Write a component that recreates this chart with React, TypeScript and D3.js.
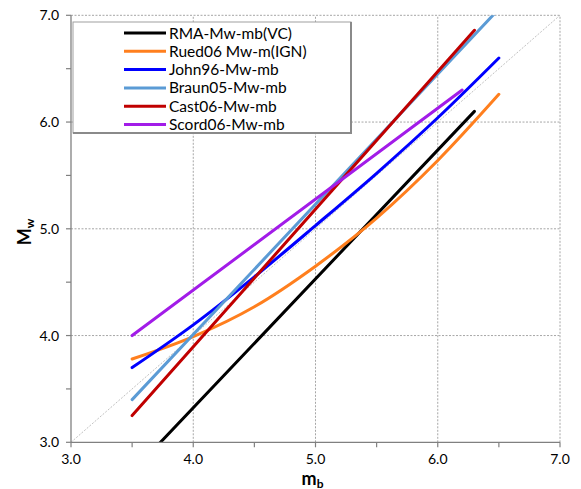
import React from "react";
import * as d3 from "d3";

const xTicks = [3.0, 4.0, 5.0, 6.0, 7.0];
const yTicks = [3.0, 4.0, 5.0, 6.0, 7.0];
const minorTicks = [3.5, 4.5, 5.5, 6.5];

const seriesNames = [
  "RMA-Mw-mb(VC)",
  "Rued06 Mw-m(IGN)",
  "John96-Mw-mb",
  "Braun05-Mw-mb",
  "Cast06-Mw-mb",
  "Scord06-Mw-mb",
];
const seriesColors = ["#000000", "#ff7f1e", "#0000ff", "#5b9bd5", "#c00000", "#a21ce8"];

const rmaMb = [3.5, 6.3];
const rmaMw = [2.72, 6.1];
const ruedMb = [3.5, 4.0, 4.5, 5.0, 5.5, 6.0, 6.5];
const ruedMw = [3.78, 3.99, 4.27, 4.65, 5.1, 5.64, 6.26];
const johnMb = [3.5, 4.0, 4.5, 5.0, 5.5, 6.0, 6.5];
const johnMw = [3.7, 4.1, 4.55, 5.03, 5.52, 6.04, 6.6];
const braunMb = [3.5, 6.5];
const braunMw = [3.4, 7.06];
const castMb = [3.5, 6.3];
const castMw = [3.25, 6.86];
const scordMb = [3.5, 6.2];
const scordMw = [4.0, 6.3];

const seriesX = [rmaMb, ruedMb, johnMb, braunMb, castMb, scordMb];
const seriesY = [rmaMw, ruedMw, johnMw, braunMw, castMw, scordMw];

const W = 581;
const H = 489;

export default function App() {
  const x = d3.scaleLinear().domain([3, 7]).range([71, 560]);
  const y = d3.scaleLinear().domain([3, 7]).range([442.3, 15.3]);
  const font = "Lato, 'Open Sans', sans-serif";

  const line = d3
    .line<[number, number]>()
    .x((d) => x(d[0]))
    .y((d) => y(d[1]))
    .curve(d3.curveMonotoneX);

  const gridColor = "#a6a6a6";
  const axisColor = "#808080";

  return (
    <svg width={W} height={H} style={{ position: "absolute", left: 0, top: 0 }}>
      <rect x={0} y={0} width={W} height={H} fill="#fff" />
      <defs>
        <clipPath id="plotclip">
          <rect x={x(3)} y={y(7)} width={x(7) - x(3)} height={y(3) - y(7)} />
        </clipPath>
      </defs>
      {/* grid */}
      {xTicks.slice(1).map((t) => (
        <line key={"gx" + t} x1={x(t)} x2={x(t)} y1={y(3)} y2={y(7)} stroke={gridColor} strokeWidth={1} strokeDasharray="2,1.5" />
      ))}
      {yTicks.slice(1).map((t) => (
        <line key={"gy" + t} x1={x(3)} x2={x(7)} y1={y(t)} y2={y(t)} stroke={gridColor} strokeWidth={1} strokeDasharray="2,1.5" />
      ))}
      {/* diagonal 1:1 */}
      <line x1={x(3)} y1={y(3)} x2={x(7)} y2={y(7)} stroke="#b0b0b0" strokeWidth={0.8} strokeDasharray="2,1.5" />
      {/* series */}
      <g clipPath="url(#plotclip)">
        {seriesNames.map((n, i) => {
          const pts = seriesX[i].map((v, j) => [v, seriesY[i][j]] as [number, number]);
          return (
            <path key={n} d={line(pts) || ""} fill="none" stroke={seriesColors[i]} strokeWidth={3} strokeLinecap="round" strokeLinejoin="round" />
          );
        })}
      </g>
      {/* axes */}
      <line x1={x(3)} x2={x(7)} y1={y(3)} y2={y(3)} stroke={axisColor} strokeWidth={1.3} />
      <line x1={x(3)} x2={x(3)} y1={y(3)} y2={y(7)} stroke={axisColor} strokeWidth={1.3} />
      {[...xTicks, ...minorTicks].map((t) => (
        <line key={"tx" + t} x1={x(t)} x2={x(t)} y1={y(3)} y2={y(3) + 5} stroke={axisColor} strokeWidth={1.2} />
      ))}
      {[...yTicks, ...minorTicks].map((t) => (
        <line key={"ty" + t} x1={x(3) - 5} x2={x(3)} y1={y(t)} y2={y(t)} stroke={axisColor} strokeWidth={1.2} />
      ))}
      {xTicks.map((t) => (
        <text key={"lx" + t} x={x(t)} y={464} textAnchor="middle" fontFamily={font} fontSize={14} fill="#000">
          {d3.format(".1f")(t)}
        </text>
      ))}
      {yTicks.map((t) => (
        <text key={"ly" + t} x={59} y={y(t) + 5} textAnchor="end" fontFamily={font} fontSize={14} fill="#000">
          {d3.format(".1f")(t)}
        </text>
      ))}
      {/* axis titles */}
      <text x={x(5) - 3} y={484.5} textAnchor="middle" fontFamily={font} fontSize={18} fontWeight="bold" fill="#000">
        m<tspan fontSize={12} dy={3}>b</tspan>
      </text>
      <text transform={`translate(31,${232}) rotate(-90)`} textAnchor="middle" fontFamily={font} fontSize={18} fontWeight="bold" fill="#000">
        M<tspan fontSize={12} dy={3}>w</tspan>
      </text>
      {/* legend */}
      <rect x={73} y={22} width={278} height={111} fill="#fff" stroke="#a0a0a0" strokeWidth={1} />
      <line x1={351} x2={351} y1={22} y2={134} stroke="#8a8a8a" strokeWidth={2} />
      <line x1={73} x2={352} y1={133} y2={133} stroke="#8a8a8a" strokeWidth={2} />
      {seriesNames.map((n, i) => {
        const cy = 33 + i * 18.3;
        return (
          <g key={"lg" + n}>
            <line x1={124} x2={166} y1={cy} y2={cy} stroke={seriesColors[i]} strokeWidth={3} />
            <text x={169} y={cy + 5.5} fontFamily={font} fontSize={15.5} fill="#000">
              {n}
            </text>
          </g>
        );
      })}
    </svg>
  );
}
